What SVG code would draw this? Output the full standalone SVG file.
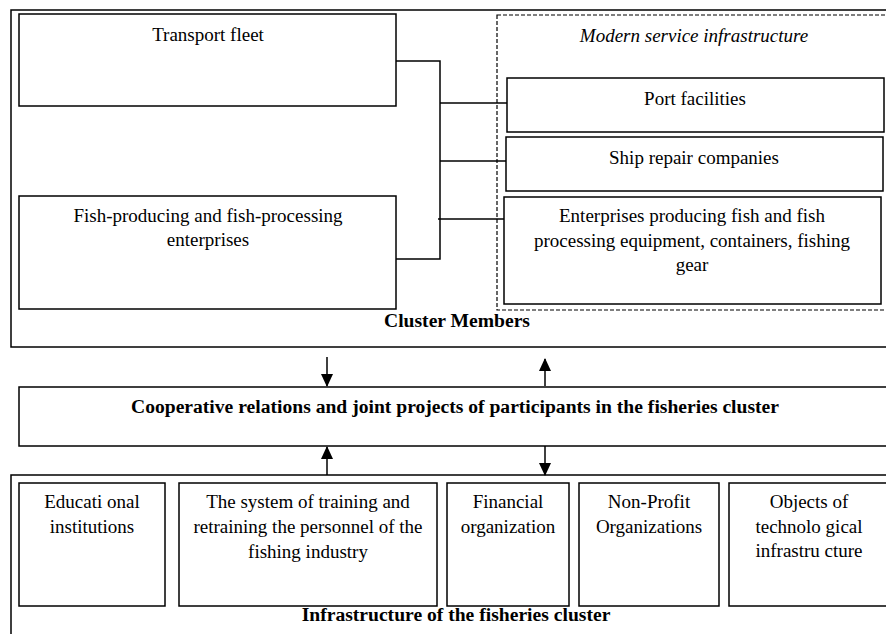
<svg xmlns="http://www.w3.org/2000/svg" width="886" height="634" viewBox="0 0 886 634">
<style>
.bx{fill:#fff;stroke:#000;stroke-width:1.5}
.ob{fill:none;stroke:#000;stroke-width:1.5}
.dash{fill:none;stroke:#000;stroke-width:1.2;stroke-dasharray:4,2}
text{font-family:'Liberation Serif','Times New Roman','DejaVu Serif',serif;font-size:19px;fill:#000;text-anchor:middle}
.b{font-weight:bold;font-size:19.6px}
.i{font-style:italic}
.ln{fill:none;stroke:#000;stroke-width:1.5}
</style>
<defs>
<marker id="ah" markerWidth="13" markerHeight="12" refX="12" refY="6" orient="auto" markerUnits="userSpaceOnUse">
<path d="M0,0 L13,6 L0,12 Z" fill="#000"/>
</marker>
</defs>
<rect width="886" height="634" fill="#fff"/>

<g id="cluster-members">
<rect class="ob" x="11" y="10" width="890" height="337"/>
<text class="b" x="457" y="327">Cluster Members</text>
</g>

<g id="modern-service">
<rect class="dash" x="497" y="15" width="400" height="295"/>
<text class="i" x="694" y="42">Modern service infrastructure</text>
</g>

<g id="transport-fleet">
<rect class="bx" x="19" y="14" width="377" height="92"/>
<text x="208" y="41">Transport fleet</text>
</g>

<g id="fish-producing">
<rect class="bx" x="19" y="196" width="377" height="113"/>
<text x="208" y="222">Fish-producing and fish-processing</text>
<text x="208" y="246">enterprises</text>
</g>

<g id="port-facilities">
<rect class="bx" x="507" y="78" width="377" height="54"/>
<text x="695" y="105">Port facilities</text>
</g>

<g id="ship-repair">
<rect class="bx" x="506" y="137" width="377" height="54"/>
<text x="694" y="164">Ship repair companies</text>
</g>

<g id="enterprises-equipment">
<rect class="bx" x="504" y="197" width="377" height="107"/>
<text x="692" y="222">Enterprises producing fish and fish</text>
<text x="692" y="247">processing equipment, containers, fishing</text>
<text x="692" y="271">gear</text>
</g>

<g id="cooperative">
<rect class="bx" x="19" y="387" width="880" height="59"/>
<text class="b" x="455" y="413">Cooperative relations and joint projects of participants in the fisheries cluster</text>
</g>

<g id="infrastructure">
<rect class="ob" x="11" y="475" width="890" height="170"/>
<text class="b" x="456" y="621">Infrastructure of the fisheries cluster</text>
</g>

<g id="educational">
<rect class="bx" x="19" y="483" width="146" height="123"/>
<text x="92" y="508">Educati onal</text>
<text x="92" y="533">institutions</text>
</g>

<g id="training">
<rect class="bx" x="179" y="483" width="258" height="123"/>
<text x="308" y="508">The system of training and</text>
<text x="308" y="533">retraining the personnel of the</text>
<text x="308" y="558">fishing industry</text>
</g>

<g id="financial">
<rect class="bx" x="447" y="483" width="122" height="123"/>
<text x="508" y="508">Financial</text>
<text x="508" y="533">organization</text>
</g>

<g id="non-profit">
<rect class="bx" x="579" y="483" width="140" height="123"/>
<text x="649" y="508">Non-Profit</text>
<text x="649" y="533">Organizations</text>
</g>

<g id="technological">
<rect class="bx" x="729" y="483" width="170" height="123"/>
<text x="809" y="508">Objects of</text>
<text x="809" y="533">technolo gical</text>
<text x="809" y="557">infrastru cture</text>
</g>

<g id="connectors">
<path class="ln" d="M396,61 H440 V259 H396"/>
<path class="ln" d="M440,103 H507"/>
<path class="ln" d="M440,161 H506"/>
<path class="ln" d="M438,219 H504"/>
<path class="ln" d="M327,357 V386" marker-end="url(#ah)"/>
<path class="ln" d="M545,386 V359" marker-end="url(#ah)"/>
<path class="ln" d="M327,475 V447" marker-end="url(#ah)"/>
<path class="ln" d="M545,446 V475" marker-end="url(#ah)"/>
</g>
</svg>
